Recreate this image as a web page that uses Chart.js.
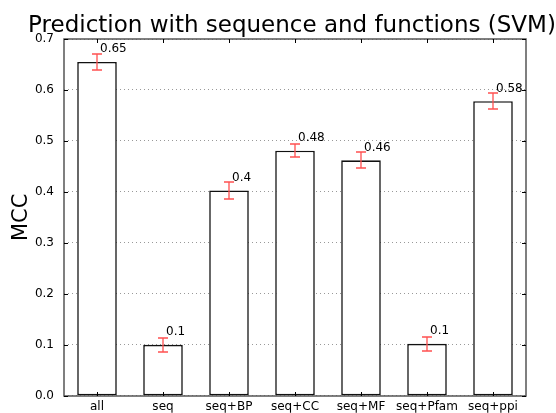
<!DOCTYPE html>
<html>
<head>
<meta charset="utf-8">
<script src="https://cdn.jsdelivr.net/npm/chart.js@4/dist/chart.umd.min.js"></script>
<style>
html,body{margin:0;padding:0;background:#fff;}
#wrap{width:556px;height:413px;}
</style>
</head>
<body>
<div id="wrap"><canvas id="c" width="556" height="413"></canvas></div>
<script>
const titleText = "Prediction with sequence and functions (SVM)";
const yTitle = "MCC";
const categories = ["all", "seq", "seq+BP", "seq+CC", "seq+MF", "seq+Pfam", "seq+ppi"];
const values = [0.655, 0.100, 0.403, 0.481, 0.462, 0.102, 0.578];
const errors = [0.015, 0.014, 0.017, 0.013, 0.016, 0.014, 0.016];
const valueLabels = ["0.65", "0.1", "0.4", "0.48", "0.46", "0.1", "0.58"];
const yTicks = [0.0, 0.1, 0.2, 0.3, 0.4, 0.5, 0.6, 0.7];

const FONT = "'DejaVu Sans', sans-serif";

const decor = {
  id: 'decor',
  afterDatasetsDraw(chart) {
    const ctx = chart.ctx;
    const ys = chart.scales.y;
    const meta = chart.getDatasetMeta(0);
    ctx.save();
    // error bars
    ctx.strokeStyle = '#ff5050';
    ctx.lineWidth = 1.3;
    meta.data.forEach((bar, i) => {
      const x = Math.round(bar.x);
      const t = Math.round(ys.getPixelForValue(values[i] + errors[i]));
      const b = Math.round(ys.getPixelForValue(values[i] - errors[i]));
      ctx.beginPath();
      ctx.moveTo(x, t); ctx.lineTo(x, b);
      ctx.moveTo(x - 5, t); ctx.lineTo(x + 5, t);
      ctx.moveTo(x - 5, b); ctx.lineTo(x + 5, b);
      ctx.stroke();
    });
    // value labels
    ctx.fillStyle = '#000';
    ctx.font = "12px " + FONT;
    ctx.textAlign = 'left';
    ctx.textBaseline = 'alphabetic';
    meta.data.forEach((bar, i) => {
      const y = ys.getPixelForValue(values[i] + 0.019);
      ctx.fillText(valueLabels[i], bar.x + 3, y);
    });
    ctx.restore();
  },
  afterDraw(chart) {
    const ctx = chart.ctx;
    const a = chart.chartArea;
    const ys = chart.scales.y;
    const xs = chart.scales.x;
    ctx.save();
    ctx.strokeStyle = '#555555';
    ctx.lineWidth = 1.5;
    const L = Math.round(a.left), R = Math.round(a.right);
    const T = Math.round(a.top), B = Math.round(a.bottom);
    ctx.strokeRect(L, T, R - L, B - T);
    ctx.strokeStyle = '#000';
    ctx.lineWidth = 1;
    ctx.beginPath();
    // inner ticks
    yTicks.forEach(v => {
      const y = Math.round(ys.getPixelForValue(v)) + 0.5;
      ctx.moveTo(L, y); ctx.lineTo(L + 4, y);
      ctx.moveTo(R, y); ctx.lineTo(R - 4, y);
    });
    categories.forEach((c, i) => {
      const x = Math.round(xs.getPixelForValue(i)) + 0.5;
      ctx.moveTo(x, T); ctx.lineTo(x, T + 4);
      ctx.moveTo(x, B); ctx.lineTo(x, B - 4);
    });
    ctx.stroke();
    // title
    ctx.fillStyle = '#000';
    ctx.font = "23px " + FONT;
    ctx.textAlign = 'center';
    ctx.textBaseline = 'alphabetic';
    ctx.fillText(titleText, (a.left + a.right) / 2 - 3, 32);
    ctx.restore();
  }
};

new Chart(document.getElementById('c'), {
  type: 'bar',
  data: {
    labels: categories,
    datasets: [{
      data: values,
      backgroundColor: '#ffffff',
      borderColor: '#111111',
      borderWidth: 1.6,
      borderSkipped: false,
      barPercentage: 0.6,
      categoryPercentage: 1.0
    }]
  },
  options: {
    responsive: false,
    animation: false,
    devicePixelRatio: 1,
    layout: { padding: { top: 39, right: 30, left: 0, bottom: 0 } },
    plugins: { legend: { display: false }, title: { display: false }, tooltip: { enabled: false } },
    scales: {
      x: {
        grid: { display: false, drawTicks: false },
        border: { display: false },
        ticks: { color: '#000', font: { family: FONT, size: 12 }, padding: 4, maxRotation: 0, autoSkip: false },
        afterFit(s) { s.height = 17; }
      },
      y: {
        min: 0, max: 0.7,
        grid: { color: '#999999', lineWidth: 1, drawTicks: false },
        border: { display: false, dash: [1, 3] },
        afterBuildTicks(s) { s.ticks = yTicks.map(v => ({ value: v })); },
        ticks: {
          color: '#000', font: { family: FONT, size: 12 }, padding: 10,
          callback: v => Number(v).toFixed(1)
        },
        title: { display: true, text: yTitle, color: '#000', font: { family: FONT, size: 21 }, padding: { top: 9, bottom: 0 } },
        afterFit(s) { s.width = 64; }
      }
    }
  },
  plugins: [decor]
});
</script>
</body>
</html>
